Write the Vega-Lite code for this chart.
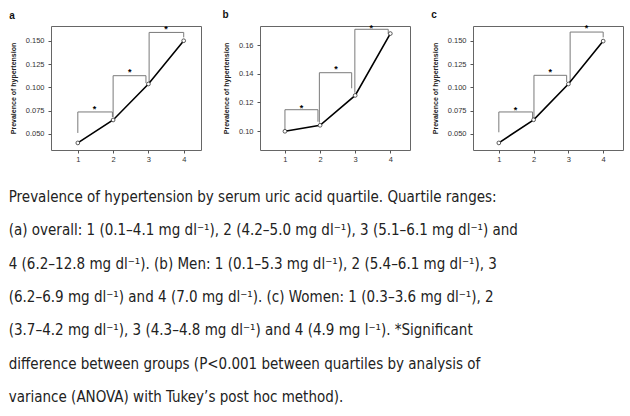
{
  "$schema": "https://vega.github.io/schema/vega-lite/v6.json",
  "background": "white",
  "padding": {"left": 8, "top": 9, "right": 5, "bottom": 5},
  "datasets": {
    "pts": [
      {"panel": "a", "x": 1, "y": 0.0404}, {"panel": "a", "x": 2, "y": 0.065}, {"panel": "a", "x": 3, "y": 0.1036}, {"panel": "a", "x": 4, "y": 0.150},
      {"panel": "b", "x": 1, "y": 0.0998}, {"panel": "b", "x": 2, "y": 0.104}, {"panel": "b", "x": 3, "y": 0.1249}, {"panel": "b", "x": 4, "y": 0.1682},
      {"panel": "c", "x": 1, "y": 0.0404}, {"panel": "c", "x": 2, "y": 0.0652}, {"panel": "c", "x": 3, "y": 0.1036}, {"panel": "c", "x": 4, "y": 0.1496}
    ],
    "segs": [
      {"panel": "a", "x": 1.0, "y": 0.0511, "x2": 1.0, "y2": 0.0736},
      {"panel": "a", "x": 1.0, "y": 0.0736, "x2": 1.98, "y2": 0.0736},
      {"panel": "a", "x": 1.98, "y": 0.0736, "x2": 1.98, "y2": 0.0682},
      {"panel": "a", "x": 2.0, "y": 0.0679, "x2": 2.0, "y2": 0.1125},
      {"panel": "a", "x": 2.0, "y": 0.1125, "x2": 2.93, "y2": 0.1125},
      {"panel": "a", "x": 2.93, "y": 0.1125, "x2": 2.93, "y2": 0.1046},
      {"panel": "a", "x": 3.02, "y": 0.1054, "x2": 3.02, "y2": 0.1589},
      {"panel": "a", "x": 3.02, "y": 0.1589, "x2": 4.0, "y2": 0.1589},
      {"panel": "a", "x": 4.0, "y": 0.1589, "x2": 4.0, "y2": 0.1536},
      {"panel": "b", "x": 1.0, "y": 0.1007, "x2": 1.0, "y2": 0.1149},
      {"panel": "b", "x": 1.0, "y": 0.1149, "x2": 1.94, "y2": 0.1149},
      {"panel": "b", "x": 1.94, "y": 0.1149, "x2": 1.94, "y2": 0.1065},
      {"panel": "b", "x": 1.98, "y": 0.1058, "x2": 1.98, "y2": 0.1408},
      {"panel": "b", "x": 1.98, "y": 0.1408, "x2": 2.9, "y2": 0.1408},
      {"panel": "b", "x": 2.9, "y": 0.1408, "x2": 2.9, "y2": 0.1299},
      {"panel": "b", "x": 2.99, "y": 0.1268, "x2": 2.99, "y2": 0.1712},
      {"panel": "b", "x": 2.99, "y": 0.1712, "x2": 3.94, "y2": 0.1712},
      {"panel": "b", "x": 3.94, "y": 0.1712, "x2": 3.94, "y2": 0.1679},
      {"panel": "c", "x": 1.0, "y": 0.0518, "x2": 1.0, "y2": 0.0736},
      {"panel": "c", "x": 1.0, "y": 0.0736, "x2": 1.97, "y2": 0.0736},
      {"panel": "c", "x": 1.97, "y": 0.0736, "x2": 1.97, "y2": 0.0671},
      {"panel": "c", "x": 2.01, "y": 0.0671, "x2": 2.01, "y2": 0.1129},
      {"panel": "c", "x": 2.01, "y": 0.1129, "x2": 2.95, "y2": 0.1129},
      {"panel": "c", "x": 2.95, "y": 0.1129, "x2": 2.95, "y2": 0.1057},
      {"panel": "c", "x": 3.05, "y": 0.1057, "x2": 3.05, "y2": 0.1593},
      {"panel": "c", "x": 3.05, "y": 0.1593, "x2": 4.0, "y2": 0.1593},
      {"panel": "c", "x": 4.0, "y": 0.1593, "x2": 4.0, "y2": 0.1536}
    ],
    "stars": [
      {"panel": "a", "x": 1.47, "y": 0.0789, "t": "*"},
      {"panel": "a", "x": 2.47, "y": 0.1189, "t": "*"},
      {"panel": "a", "x": 3.5, "y": 0.1646, "t": "*"},
      {"panel": "b", "x": 1.47, "y": 0.1177, "t": "*"},
      {"panel": "b", "x": 2.45, "y": 0.145, "t": "*"},
      {"panel": "b", "x": 3.46, "y": 0.1735, "t": "*"},
      {"panel": "c", "x": 1.48, "y": 0.0775, "t": "*"},
      {"panel": "c", "x": 2.48, "y": 0.1189, "t": "*"},
      {"panel": "c", "x": 3.52, "y": 0.1654, "t": "*"}
    ]
  },
  "title": {
    "text": [
      "Prevalence of hypertension by serum uric acid quartile. Quartile ranges:",
      "(a) overall: 1 (0.1–4.1 mg dl⁻¹), 2 (4.2–5.0 mg dl⁻¹), 3 (5.1–6.1 mg dl⁻¹) and",
      "4 (6.2–12.8 mg dl⁻¹). (b) Men: 1 (0.1–5.3 mg dl⁻¹), 2 (5.4–6.1 mg dl⁻¹), 3",
      "(6.2–6.9 mg dl⁻¹) and 4 (7.0 mg dl⁻¹). (c) Women: 1 (0.3–3.6 mg dl⁻¹), 2",
      "(3.7–4.2 mg dl⁻¹), 3 (4.3–4.8 mg dl⁻¹) and 4 (4.9 mg l⁻¹). *Significant",
      "difference between groups (P<0.001 between quartiles by analysis of",
      "variance (ANOVA) with Tukey’s post hoc method)."
    ],
    "orient": "bottom",
    "anchor": "start",
    "frame": "bounds",
    "font": "DejaVu Sans Condensed, Liberation Sans",
    "fontSize": 15,
    "fontWeight": "normal",
    "lineHeight": 33.3,
    "offset": 27,
    "color": "#222222"
  },
  "spacing": 19,
  "hconcat": [
    {
      "width": 150, "height": 124,
      "title": {"text": "a"},
      "encoding": {
        "x": {"field": "x", "type": "quantitative", "scale": {"domain": [0.24, 4.49], "nice": false, "zero": false}, "axis": {"values": [1, 2, 3, 4], "title": null}},
        "y": {"field": "y", "type": "quantitative", "scale": {"domain": [0.0328, 0.1658], "nice": false, "zero": false}, "axis": {"values": [0.05, 0.075, 0.1, 0.125, 0.15], "format": ".3f", "title": "Prevalence of hypertension"}}
      },
      "layer": [
        {"data": {"name": "segs"}, "transform": [{"filter": "datum.panel === 'a'"}], "mark": {"type": "rule", "color": "#7a7a7a", "strokeWidth": 1}, "encoding": {"x2": {"field": "x2"}, "y2": {"field": "y2"}}},
        {"data": {"name": "pts"}, "transform": [{"filter": "datum.panel === 'a'"}], "mark": {"type": "line", "color": "black", "strokeWidth": 1.6}, "encoding": {}},
        {"data": {"name": "pts"}, "transform": [{"filter": "datum.panel === 'a'"}], "mark": {"type": "point", "filled": false, "fill": "white", "stroke": "#333", "strokeWidth": 0.8, "size": 14, "opacity": 1}, "encoding": {}},
        {"data": {"name": "stars"}, "transform": [{"filter": "datum.panel === 'a'"}], "mark": {"type": "text", "fontSize": 9, "fontWeight": "bold", "baseline": "middle", "dy": 2, "clip": false, "font": "Liberation Sans"}, "encoding": {"text": {"field": "t"}}}
      ]
    },
    {
      "width": 150, "height": 124,
      "title": {"text": "b"},
      "encoding": {
        "x": {"field": "x", "type": "quantitative", "scale": {"domain": [0.29, 4.56], "nice": false, "zero": false}, "axis": {"values": [1, 2, 3, 4], "title": null}},
        "y": {"field": "y", "type": "quantitative", "scale": {"domain": [0.0867, 0.1735], "nice": false, "zero": false}, "axis": {"values": [0.1, 0.12, 0.14, 0.16], "format": ".2f", "title": "Prevalence of hypertension"}}
      },
      "layer": [
        {"data": {"name": "segs"}, "transform": [{"filter": "datum.panel === 'b'"}], "mark": {"type": "rule", "color": "#7a7a7a", "strokeWidth": 1}, "encoding": {"x2": {"field": "x2"}, "y2": {"field": "y2"}}},
        {"data": {"name": "pts"}, "transform": [{"filter": "datum.panel === 'b'"}], "mark": {"type": "line", "color": "black", "strokeWidth": 1.6}, "encoding": {}},
        {"data": {"name": "pts"}, "transform": [{"filter": "datum.panel === 'b'"}], "mark": {"type": "point", "filled": false, "fill": "white", "stroke": "#333", "strokeWidth": 0.8, "size": 14, "opacity": 1}, "encoding": {}},
        {"data": {"name": "stars"}, "transform": [{"filter": "datum.panel === 'b'"}], "mark": {"type": "text", "fontSize": 9, "fontWeight": "bold", "baseline": "middle", "dy": 2, "clip": false, "font": "Liberation Sans"}, "encoding": {"text": {"field": "t"}}}
      ]
    },
    {
      "width": 150, "height": 124,
      "title": {"text": "c"},
      "encoding": {
        "x": {"field": "x", "type": "quantitative", "scale": {"domain": [0.257, 4.57], "nice": false, "zero": false}, "axis": {"values": [1, 2, 3, 4], "title": null}},
        "y": {"field": "y", "type": "quantitative", "scale": {"domain": [0.0328, 0.1658], "nice": false, "zero": false}, "axis": {"values": [0.05, 0.075, 0.1, 0.125, 0.15], "format": ".3f", "title": "Prevalence of hypertension"}}
      },
      "layer": [
        {"data": {"name": "segs"}, "transform": [{"filter": "datum.panel === 'c'"}], "mark": {"type": "rule", "color": "#7a7a7a", "strokeWidth": 1}, "encoding": {"x2": {"field": "x2"}, "y2": {"field": "y2"}}},
        {"data": {"name": "pts"}, "transform": [{"filter": "datum.panel === 'c'"}], "mark": {"type": "line", "color": "black", "strokeWidth": 1.6}, "encoding": {}},
        {"data": {"name": "pts"}, "transform": [{"filter": "datum.panel === 'c'"}], "mark": {"type": "point", "filled": false, "fill": "white", "stroke": "#333", "strokeWidth": 0.8, "size": 14, "opacity": 1}, "encoding": {}},
        {"data": {"name": "stars"}, "transform": [{"filter": "datum.panel === 'c'"}], "mark": {"type": "text", "fontSize": 9, "fontWeight": "bold", "baseline": "middle", "dy": 2, "clip": false, "font": "Liberation Sans"}, "encoding": {"text": {"field": "t"}}}
      ]
    }
  ],
  "config": {
    "view": {"stroke": "#666666", "strokeWidth": 1},
    "axis": {
      "grid": false, "domain": false,
      "labelFont": "Liberation Sans", "labelFontSize": 7.5, "labelColor": "#333333",
      "tickColor": "#555555", "tickSize": 3, "labelPadding": 2,
      "titleFont": "Liberation Sans", "titleFontSize": 7, "titleFontWeight": "bold", "titleColor": "#222222", "titlePadding": 8
    },
    "axisY": {"labelPadding": 4, "titlePadding": 9},
    "title": {"anchor": "start", "frame": "bounds", "font": "Liberation Sans", "fontSize": 10, "fontWeight": "bold", "offset": 4, "color": "#111111"}
  }
}
